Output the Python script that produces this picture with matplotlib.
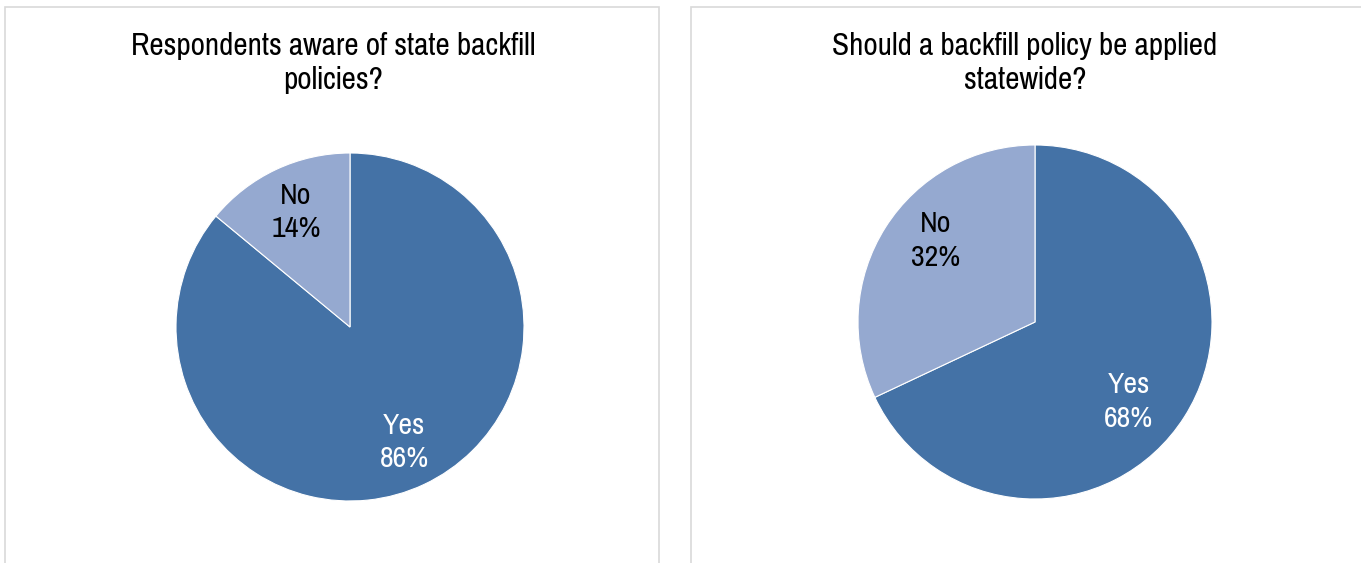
import matplotlib.pyplot as plt
from matplotlib.patches import Rectangle

# survey answers, share of respondents in percent
answers = ["Yes", "No"]
aware_pct = [86, 14]
statewide_pct = [68, 32]
titles = ["Respondents aware of state backfill\npolicies?",
          "Should a backfill policy be applied\nstatewide?"]

yes_color = "#4472a6"
no_color = "#95a9d0"
fonts = ["Pragati Narrow", "DejaVu Sans"]

W, H = 1361, 563
fig = plt.figure(figsize=(W / 100, H / 100), dpi=100)
fig.patch.set_facecolor("white")

# panel frames (x0, x1 in pixels), open at the bottom edge
for x0, x1 in [(5, 659), (691, 1375)]:
    fig.add_artist(Rectangle((x0 / W, -0.05), (x1 - x0) / W, 1.05 - 7 / H,
                             transform=fig.transFigure, fill=False,
                             edgecolor="#d9d9d9", linewidth=1.2))

# centre x, centre y, radius, title centre x (pixels)
layout = [(350, 327, 174, 333), (1035, 322, 177, 1025)]
# label offsets (fraction of radius) for Yes / No
label_xy = [[(0.31, -0.66), (-0.31, 0.66)],
            [(0.53, -0.45), (-0.56, 0.46)]]

for values, title, (cx, cy, r, tx), lxy in zip(
        [aware_pct, statewide_pct], titles, layout, label_xy):
    ax = fig.add_axes([(cx - r) / W, 1 - (cy + r) / H, 2 * r / W, 2 * r / H])
    ax.pie(values, colors=[yes_color, no_color], startangle=90,
           counterclock=False, radius=1,
           wedgeprops=dict(linewidth=0.8, edgecolor="white"))
    ax.set_xlim(-1, 1)
    ax.set_ylim(-1, 1)
    ax.set_aspect("equal")
    ax.axis("off")
    for name, v, (lx, ly), c in zip(answers, values, lxy, ["white", "black"]):
        ax.text(lx, ly, f"{name}\n{v}%", ha="center", va="center",
                color=c, fontsize=23.5, family=fonts, linespacing=1.3)
    fig.text(tx / W, 1 - 63 / H, title, ha="center", va="center",
             fontsize=24.5, family=fonts, linespacing=1.22)

fig.savefig("out.png", dpi=100)
